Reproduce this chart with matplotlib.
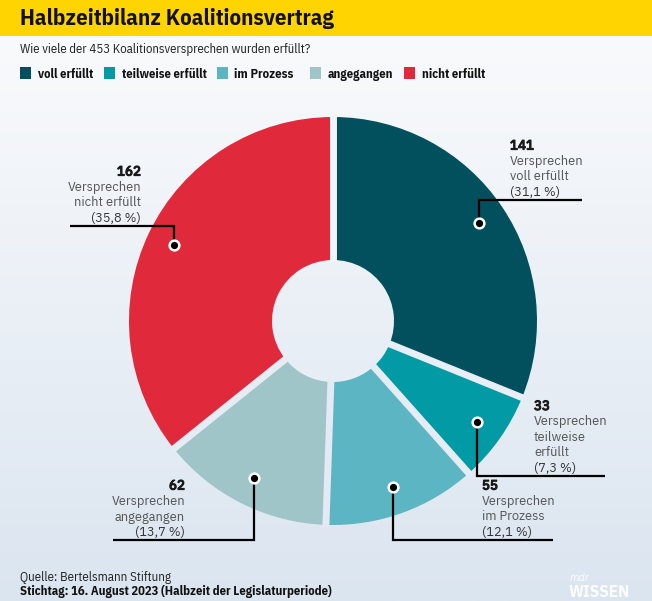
import numpy as np
import matplotlib
matplotlib.use("Agg")
import matplotlib.pyplot as plt
import matplotlib.patheffects as pe
from matplotlib import font_manager as fm
from matplotlib.colors import LinearSegmentedColormap

# === Daten ===
kategorien = ["voll erfüllt", "teilweise erfüllt", "im Prozess", "angegangen", "nicht erfüllt"]
anzahl = [141, 33, 55, 62, 162]
beschreibung = ["voll erfüllt", "teilweise\nerfüllt", "im Prozess", "angegangen", "nicht erfüllt"]
farben = ["#02505d", "#029ba5", "#5bb5c2", "#9fc5c8", "#e0293b"]

# Layout der Beschriftungen (Pixel): Knick-y, Linienende-x, Text-x, Ausrichtung
knick_y = [200, 476, 540, 540, 226]
linie_ende_x = [582, 605, 553, 113, 70]
text_x = [510, 534, 482, 185, 141]
text_ha = ["left", "left", "left", "right", "right"]

W, H = 652, 601
BG_TOP, BG_BOTTOM = "#f9fafc", "#dbe5f0"

installed = {f.name for f in fm.fontManager.ttflist}


def pick(*names):
    for n in names:
        if n in installed:
            return n
    return "DejaVu Sans"


cond_font = pick("IBM Plex Sans Condensed", "Barlow Semi Condensed", "Asap Condensed")
body_font = pick("IBM Plex Sans", "Roboto")


def Y(py):
    return H - py


fig = plt.figure(figsize=(W / 100, H / 100), dpi=100)
ax = fig.add_axes([0, 0, 1, 1])
renderer = fig.canvas.get_renderer()


def fit_text(x, y, s, target_w, **kw):
    # Schriftgröße so wählen, dass die Breite in Pixeln passt
    t = ax.text(x, y, s, fontsize=10, **kw)
    w = t.get_window_extent(renderer=renderer).width
    t.set_fontsize(10 * target_w / w)
    return t


# Hintergrund-Verlauf
cmap = LinearSegmentedColormap.from_list("bg", [BG_TOP, BG_BOTTOM])
grad = np.linspace(0, 1, 256).reshape(-1, 1)
ax.imshow(grad, cmap=cmap, extent=(0, W, 0, Y(36)), aspect="auto", zorder=0, origin="upper")


def bg_at(py):
    return cmap((py - 36) / (H - 36))


ax.set_xlim(0, W)
ax.set_ylim(0, H)

# gelber Kopf
ax.add_patch(plt.Rectangle((0, Y(36)), W, 36, color="#ffd400", zorder=1, lw=0))

fit_text(20, Y(25), "Halbzeitbilanz Koalitionsvertrag", 313, fontweight="bold",
         family=cond_font, va="baseline", ha="left", color="#111111", zorder=2)
fit_text(20, Y(53), "Wie viele der 453 Koalitionsversprechen wurden erfüllt?", 288,
         family=cond_font, va="baseline", ha="left", color="#222222")

# Legende
leg_x = [20, 104, 217, 310, 404]
leg_w = [55, 85, 59, 65, 63]
for kat, col, lx, lw in zip(kategorien, farben, leg_x, leg_w):
    ax.add_patch(plt.Rectangle((lx, Y(79)), 11, 12, color=col, lw=0, zorder=2))
    fit_text(lx + 17.5, Y(78), kat, lw, fontweight="bold", family=cond_font,
             va="baseline", ha="left", color="#111111")

# Donut
cx, cy = 333, Y(321)
r_out = 204
r_in = 61
total = sum(anzahl)
wedges, _ = ax.pie(anzahl, colors=farben, startangle=90, counterclock=False,
                   center=(cx, cy), radius=r_out, frame=True,
                   wedgeprops=dict(width=r_out - r_in, linewidth=0))
for w in wedges:
    w.set_zorder(3)

# Lücken zwischen den Segmenten in Hintergrundfarbe
kum = np.cumsum([0] + anzahl)
for k in kum[:-1]:
    ang = np.deg2rad(90 - k / total * 360)
    xs = [cx + (r_in - 2) * np.cos(ang), cx + (r_out + 2) * np.cos(ang)]
    ys = [cy + (r_in - 2) * np.sin(ang), cy + (r_out + 2) * np.sin(ang)]
    ax.plot(xs, ys, color=bg_at(H - np.mean(ys)), lw=5.0, solid_capstyle="butt", zorder=4)

ax.set_xlim(0, W)
ax.set_ylim(0, H)
ax.set_aspect("equal")
ax.axis("off")

# Beschriftungen
for i, n in enumerate(anzahl):
    mitte = (kum[i] + kum[i + 1]) / 2 / total
    ang = np.deg2rad(90 - mitte * 360)
    dx = cx + 176 * np.cos(ang)
    dy = cy + 176 * np.sin(ang)
    ky = Y(knick_y[i])
    ax.plot([dx, dx, linie_ende_x[i]], [dy, ky, ky], color="black", lw=1.6, zorder=5,
            solid_joinstyle="miter", solid_capstyle="butt")
    ax.plot(dx, dy, "o", color="black", markersize=7, mec="white", mew=1.8, zorder=6)

    pct = f"({n / total * 100:.1f} %)".replace(".", ",")
    zeilen = [(str(n), True, "#1a1a1a"), ("Versprechen", False, "#555555")]
    zeilen += [(z, False, "#555555") for z in beschreibung[i].split("\n")]
    zeilen += [(pct, False, "#333333")]
    y0 = knick_y[i] - 4
    for j, (txt, fett, col) in enumerate(reversed(zeilen)):
        t = ax.text(text_x[i], Y(y0 - j * 15.5), txt, fontsize=9.2,
                    family=body_font, color=col, ha=text_ha[i], va="baseline", zorder=6)
        if fett:
            t.set_fontsize(9.6)
            t.set_path_effects([pe.withStroke(linewidth=0.9, foreground=col)])

# Fußzeile
fit_text(20, Y(581), "Quelle: Bertelsmann Stiftung", 150, family=cond_font,
         va="baseline", ha="left", color="#222222")
fit_text(20, Y(595), "Stichtag: 16. August 2023 (Halbzeit der Legislaturperiode)", 313,
         fontweight="bold", family=cond_font, va="baseline", ha="left", color="#111111")
ax.text(570, Y(578), "mdr", fontsize=8, fontweight="bold", style="italic", family=body_font,
        va="center", ha="left", color="white", alpha=0.9)
fit_text(569, Y(597), "WISSEN", 61, fontweight="bold", family=cond_font,
         va="baseline", ha="left", color="white", alpha=0.95)

fig.savefig("out.png", dpi=100)
